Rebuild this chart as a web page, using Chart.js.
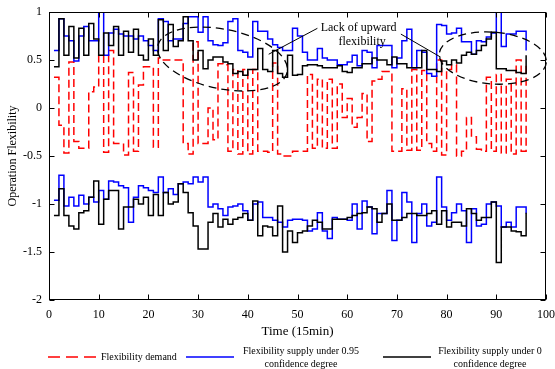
<!DOCTYPE html>
<html>
<head>
<meta charset="utf-8">
<script src="https://cdn.jsdelivr.net/npm/chart.js@4/dist/chart.umd.min.js"></script>
<style>
  html, body { margin: 0; padding: 0; background: #fff; }
  #wrap { position: relative; width: 555px; height: 369px; font-family: 'Liberation Serif', 'Times New Roman', serif; }
  #wrap canvas { position: absolute; left: 0; top: 0; }
  .lg { position: absolute; font-size: 10px; line-height: 13px; color: #000; white-space: nowrap; }
  .lg.c { text-align: center; }
  .sw { position: absolute; }
</style>
</head>
<body>
<div id="wrap">
  <canvas id="chart" width="555" height="369"></canvas>

  <!-- legend -->
  <svg class="sw" style="left:48px;top:352px" width="48" height="10"><line x1="0" y1="5" x2="48" y2="5" stroke="#ff0000" stroke-width="1.5" stroke-dasharray="12,6"/></svg>
  <div class="lg" style="left:101px;top:350px">Flexibility demand</div>
  <svg class="sw" style="left:186px;top:352px" width="48" height="10"><line x1="0" y1="5" x2="48" y2="5" stroke="#0000ff" stroke-width="1.5"/></svg>
  <div class="lg c" style="left:231px;top:344px;width:140px">Flexibility supply under 0.95<br>confidence degree</div>
  <svg class="sw" style="left:383px;top:352px" width="48" height="10"><line x1="0" y1="5" x2="48" y2="5" stroke="#000000" stroke-width="1.5"/></svg>
  <div class="lg c" style="left:420px;top:344px;width:140px">Flexibility supply under 0<br>confidence degree</div>
</div>

<script>
/* ── Data ── */
const TIME = [
   1,  2,  3,  4,  5,  6,  7,  8,  9, 10, 11, 12, 13, 14, 15, 16,
  17, 18, 19, 20, 21, 22, 23, 24, 25, 26, 27, 28, 29, 30, 31, 32,
  33, 34, 35, 36, 37, 38, 39, 40, 41, 42, 43, 44, 45, 46, 47, 48,
  49, 50, 51, 52, 53, 54, 55, 56, 57, 58, 59, 60, 61, 62, 63, 64,
  65, 66, 67, 68, 69, 70, 71, 72, 73, 74, 75, 76, 77, 78, 79, 80,
  81, 82, 83, 84, 85, 86, 87, 88, 89, 90, 91, 92, 93, 94, 95, 96,
];

const X_TICKS = [0, 10, 20, 30, 40, 50, 60, 70, 80, 90, 100];
const Y_TICKS = [-2, -1.5, -1, -0.5, 0, 0.5, 1];

/* flexibility demand */
const demand = [
   0.32, -0.18, -0.47,  0.48, -0.35, -0.42, -0.42,  0.17,  0.22,  0.55, -0.46,  0.60,
  -0.37, -0.37, -0.49,  0.37, -0.45,  0.24,  0.43,  0.43, -0.41,  0.52,  0.50,  0.50,
   0.50,  0.50, -0.37, -0.48,  0.69, -0.37, -0.37,  0.00, -0.33,  0.46,  0.45, -0.45,
   0.40, -0.48,  0.40, -0.48,  0.40, -0.45, -0.45, -0.46,  0.47, -0.48, -0.50, -0.50,
  -0.45, -0.45, -0.45,  0.35, -0.42,  0.30, -0.42,  0.30, -0.42,  0.25, -0.10,  0.10,
  -0.20, -0.10,  0.15, -0.35,  0.28,  0.30,  0.38,  0.38, -0.45, -0.45,  0.20, -0.44,
   0.40, -0.44,  0.39, -0.37, -0.45,  0.50, -0.49,  0.40,  0.45, -0.50, -0.45, -0.10,
  -0.30, -0.43, -0.45,  0.32, -0.45,  0.35, -0.47,  0.30, -0.48,  0.50, -0.45,  0.45,
];

/* supply, 0.95 confidence: upward / downward */
const supply95Up = [
  0.60, 0.93, 0.75, 0.70, 0.49, 0.75, 0.85, 0.70, 0.70, 1.00, 0.55, 0.78,
  0.82, 0.77, 0.75, 0.75, 0.72, 0.75, 0.70, 0.65, 0.60, 0.93, 0.90, 0.70,
  0.72, 0.72, 0.88, 0.95, 0.95, 0.79, 0.95, 0.70, 0.66, 0.65, 0.68, 0.90,
  0.93, 0.60, 0.58, 0.53, 0.90, 0.80, 0.80, 0.72, 0.66, 0.63, 0.60, 0.60,
  0.83, 0.75, 0.58, 0.50, 0.50, 0.62, 0.52, 0.50, 0.50, 0.45, 0.45, 0.48,
  0.55, 0.44, 0.60, 0.58, 0.42, 0.65, 0.65, 0.65, 0.42, 0.52, 0.70, 0.82,
  0.42, 0.60, 0.58, 0.36, 0.33, 0.87, 0.86, 0.77, 0.78, 0.83, 0.69, 0.69,
  0.56, 0.70, 0.69, 0.74, 0.78, 1.00, 0.64, 0.77, 0.77, 0.80, 0.80, 0.60,
];
const supply95Down = [
  -0.96, -0.70, -1.02, -0.93, -1.02, -0.91, -1.00, -0.93, -0.98, -0.86, -0.95, -0.76,
  -0.77, -0.81, -0.83, -1.19, -0.93, -0.81, -0.83, -0.86, -0.88, -0.72, -0.88, -0.84,
  -0.90, -0.79, -0.77, -0.79, -0.72, -0.77, -0.72, -1.03, -1.00, -1.05, -1.12, -1.03,
  -1.02, -1.00, -1.07, -1.17, -1.00, -0.98, -1.14, -1.14, -1.17, -1.19, -1.24, -1.17,
  -1.16, -1.16, -1.17, -1.28, -1.26, -1.09, -1.28, -1.36, -1.14, -1.16, -1.16, -1.17,
  -1.00, -1.26, -0.97, -1.03, -1.31, -1.10, -1.10, -0.86, -1.38, -1.17, -0.88, -0.98,
  -1.40, -1.10, -1.00, -1.23, -1.19, -0.72, -1.03, -1.17, -1.09, -1.00, -1.07, -1.40,
  -1.05, -1.23, -1.21, -1.00, -0.98, -1.02, -1.24, -1.19, -1.24, -1.03, -1.03, -1.10,
];

/* supply, 0 confidence: upward / downward */
const supply0Up = [
  0.43, 0.93, 0.55, 0.85, 0.52, 0.83, 0.55, 0.88, 0.72, 0.55, 0.78, 0.65,
  0.85, 0.55, 0.80, 0.58, 0.82, 0.55, 0.50, 0.72, 0.55, 0.92, 0.60, 0.87,
  0.64, 0.70, 0.95, 0.70, 0.50, 0.60, 0.41, 0.50, 0.53, 0.53, 0.48, 0.46,
  0.36, 0.38, 0.34, 0.40, 0.40, 0.62, 0.40, 0.38, 0.60, 0.36, 0.32, 0.55,
  0.34, 0.35, 0.44, 0.45, 0.45, 0.44, 0.42, 0.42, 0.42, 0.44, 0.38, 0.37,
  0.42, 0.42, 0.46, 0.46, 0.52, 0.50, 0.50, 0.45, 0.53, 0.46, 0.46, 0.42,
  0.42, 0.42, 0.60, 0.40, 0.40, 0.38, 0.49, 0.45, 0.50, 0.47, 0.55, 0.58,
  0.56, 0.60, 0.65, 0.72, 0.79, 0.41, 0.41, 0.39, 0.39, 0.37, 0.36, 0.55,
];
const supply0Down = [
  -1.12, -0.84, -1.12, -1.23, -1.26, -1.09, -1.07, -0.93, -0.76, -1.21, -0.95, -0.86,
  -0.86, -1.26, -1.03, -1.03, -0.95, -1.00, -0.93, -1.12, -0.90, -1.12, -0.88, -1.00,
  -0.98, -0.79, -0.88, -1.09, -1.23, -1.47, -1.47, -1.19, -1.10, -1.24, -1.16, -1.21,
  -1.16, -1.14, -1.10, -1.17, -0.97, -1.33, -1.23, -1.24, -1.33, -1.02, -1.50, -1.28,
  -1.40, -1.30, -1.28, -1.23, -1.17, -1.19, -1.26, -1.26, -1.16, -1.16, -1.16, -1.14,
  -1.12, -1.10, -1.09, -1.03, -1.05, -1.19, -1.10, -1.00, -1.17, -1.17, -1.14, -1.10,
  -1.10, -1.12, -1.12, -1.10, -1.07, -1.21, -1.07, -1.24, -1.19, -1.19, -1.23, -1.05,
  -1.10, -1.17, -1.14, -1.14, -0.98, -1.61, -1.24, -1.24, -1.28, -1.29, -1.33, -1.09,
];

/* annotation: ellipses marking lack of upward flexibility (data units) */
const ELLIPSES = [
  { x: 34.9, y: 0.51, rx: 13.3, ry: 0.31, tilt: 0.2 },
  { x: 89.3, y: 0.52, rx: 10.8, ry: 0.27, tilt: 0.08 },
];
const NOTE_LINES = ['Lack of upward', 'flexibility'];
const NOTE_POS = [{ x: 62.3, y: 0.84 }, { x: 63.0, y: 0.69 }];
const ARROWS = [
  { x1: 54.0, y1: 0.83, x2: 44.2, y2: 0.56 },
  { x1: 70.8, y1: 0.77, x2: 78.8, y2: 0.53 },
];

const SERIF = "'Liberation Serif', 'Times New Roman', serif";
const RED = '#ff0000', BLUE = '#0000ff', BLACK = '#000000';

function series(label, values, color, order, dash) {
  return {
    label,
    data: TIME.map((t, i) => ({ x: t, y: values[i] })),
    borderColor: color,
    borderWidth: 1.5,
    borderDash: dash || [],
    stepped: 'before',
    pointRadius: 0,
    fill: false,
    order,
  };
}

/* box + inward ticks on all four sides, like the original figure */
const framePlugin = {
  id: 'frame',
  afterDatasetsDraw(chart) {
    const { ctx, chartArea: a, scales: { x, y } } = chart;
    const L = Math.round(a.left) + 0.5, R = Math.round(a.right) - 0.5;
    const T = Math.round(a.top) + 0.5, B = Math.round(a.bottom) - 0.5;
    ctx.save();
    ctx.strokeStyle = '#000';
    ctx.lineWidth = 1;
    ctx.strokeRect(L, T, R - L, B - T);
    ctx.beginPath();
    for (const v of X_TICKS) {
      const px = Math.round(x.getPixelForValue(v)) + 0.5;
      ctx.moveTo(px, B); ctx.lineTo(px, B - 5);
      ctx.moveTo(px, T); ctx.lineTo(px, T + 5);
    }
    for (const v of Y_TICKS) {
      const py = Math.round(y.getPixelForValue(v)) + 0.5;
      ctx.moveTo(L, py); ctx.lineTo(L + 5, py);
      ctx.moveTo(R, py); ctx.lineTo(R - 5, py);
    }
    ctx.stroke();
    ctx.restore();
  },
  afterDraw(chart) {
    const { ctx, scales: { x, y } } = chart;
    const kx = Math.abs(x.getPixelForValue(1) - x.getPixelForValue(0));
    const ky = Math.abs(y.getPixelForValue(1) - y.getPixelForValue(0));
    ctx.save();
    ctx.strokeStyle = '#000';
    ctx.lineWidth = 1.3;
    ctx.setLineDash([8, 5]);
    for (const e of ELLIPSES) {
      ctx.beginPath();
      ctx.ellipse(x.getPixelForValue(e.x), y.getPixelForValue(e.y), e.rx * kx, e.ry * ky, e.tilt, 0, Math.PI * 2);
      ctx.stroke();
    }
    ctx.setLineDash([]);
    ctx.lineWidth = 1;
    ctx.beginPath();
    for (const a of ARROWS) {
      ctx.moveTo(x.getPixelForValue(a.x1), y.getPixelForValue(a.y1));
      ctx.lineTo(x.getPixelForValue(a.x2), y.getPixelForValue(a.y2));
    }
    ctx.stroke();
    ctx.fillStyle = '#000';
    ctx.font = '12px ' + SERIF;
    ctx.textAlign = 'center';
    ctx.textBaseline = 'middle';
    NOTE_LINES.forEach((s, i) => {
      ctx.fillText(s, x.getPixelForValue(NOTE_POS[i].x), y.getPixelForValue(NOTE_POS[i].y));
    });
    ctx.restore();
  },
};

new Chart(document.getElementById('chart').getContext('2d'), {
  type: 'line',
  data: {
    datasets: [
      series('Flexibility supply under 0 confidence degree', supply0Up, BLACK, 1),
      series('Flexibility supply under 0 confidence degree (down)', supply0Down, BLACK, 1),
      series('Flexibility supply under 0.95 confidence degree', supply95Up, BLUE, 2),
      series('Flexibility supply under 0.95 confidence degree (down)', supply95Down, BLUE, 2),
      series('Flexibility demand', demand, RED, 3, [8, 4]),
    ],
  },
  options: {
    responsive: false,
    animation: false,
    layout: { padding: { top: 12, right: 9, left: 0, bottom: 0 } },
    plugins: { legend: { display: false }, tooltip: { enabled: false } },
    scales: {
      x: {
        type: 'linear',
        min: 0,
        max: 100,
        afterFit: s => { s.height = 69; s.paddingLeft = 0; s.paddingRight = 0; },
        afterBuildTicks: s => { s.ticks = X_TICKS.map(v => ({ value: v })); },
        grid: { display: false, drawTicks: false },
        border: { display: false },
        ticks: { padding: 8, color: '#000', maxRotation: 0, font: { family: SERIF, size: 12 } },
        title: {
          display: true, text: 'Time (15min)', color: '#000',
          font: { family: SERIF, size: 13 }, padding: { top: 0, bottom: 30 },
        },
      },
      y: {
        min: -2,
        max: 1,
        afterFit: s => { s.width = 49; s.paddingTop = 0; s.paddingBottom = 0; },
        afterBuildTicks: s => { s.ticks = Y_TICKS.map(v => ({ value: v })); },
        grid: { display: false, drawTicks: false },
        border: { display: false },
        ticks: { padding: 7, color: '#000', font: { family: SERIF, size: 12 }, callback: v => String(v) },
        title: {
          display: true, text: 'Operation Flexibility', color: '#000',
          font: { family: SERIF, size: 12 }, padding: { top: 6, bottom: 0 },
        },
      },
    },
  },
  plugins: [framePlugin],
});
</script>
</body>
</html>
